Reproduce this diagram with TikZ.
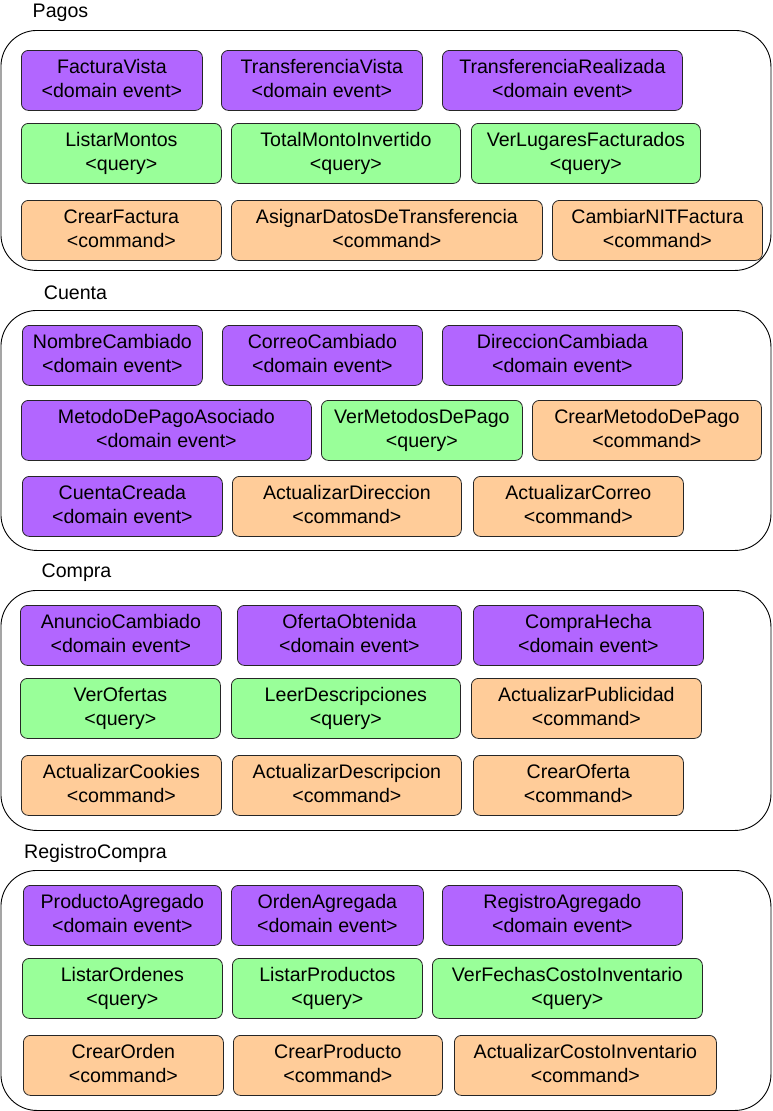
\documentclass[tikz,border=0pt]{standalone}
\usepackage{fontspec}
\setmainfont{Liberation Sans}
\definecolor{evfill}{HTML}{B266FF}
\definecolor{qfill}{HTML}{99FF99}
\definecolor{cfill}{HTML}{FFCC99}
\newcommand\bx[8]{\node[#1, anchor=north west, minimum width={(#5-#3)*1pt}, minimum height={(#6-#4)*1pt}] (#2) at (#3,#4) {\begin{tabular}{@{}c@{}}#7\\#8\end{tabular}};}
\begin{document}
\begin{tikzpicture}[x=1pt,y=-1pt,
  boxbase/.style={draw=black!85, line width=0.8pt, rounded corners=7pt, inner sep=0pt, align=center, font=\fontsize{19.6}{24}\selectfont},
  evbox/.style={boxbase, fill=evfill},
  qrbox/.style={boxbase, fill=qfill},
  cmdbox/.style={boxbase, fill=cfill},
  ctrbox/.style={draw=black, line width=0.9pt, rounded corners=36pt, inner sep=0pt},
  ctrlabel/.style={inner sep=0pt, font=\fontsize{19.6}{24}\selectfont}]
\useasboundingbox (0,0) rectangle (772,1111);
% containers
\node[ctrbox, anchor=north west, minimum width=770pt, minimum height=240pt] (pagos) at (0.5,30) {};
\node[ctrlabel] (pagoslbl) at (60.5,13) {Pagos};
\node[ctrbox, anchor=north west, minimum width=770pt, minimum height=240pt] (cuenta) at (0.5,310) {};
\node[ctrlabel] (cuentalbl) at (75.5,293) {Cuenta};
\node[ctrbox, anchor=north west, minimum width=770pt, minimum height=240pt] (compra) at (0.5,590) {};
\node[ctrlabel] (compralbl) at (76.5,573) {Compra};
\node[ctrbox, anchor=north west, minimum width=770pt, minimum height=240pt] (registro) at (0.5,870) {};
\node[ctrlabel] (registrolbl) at (95.5,853) {RegistroCompra};
% Pagos
\bx{evbox}{p1}{21}{50}{202}{110}{FacturaVista}{<domain event>}
\bx{evbox}{p2}{221}{50}{422}{110}{TransferenciaVista}{<domain event>}
\bx{evbox}{p3}{442}{50}{682}{110}{TransferenciaRealizada}{<domain event>}
\bx{qrbox}{p4}{21}{123}{221}{183}{ListarMontos}{<query>}
\bx{qrbox}{p5}{231}{123}{460}{183}{TotalMontoInvertido}{<query>}
\bx{qrbox}{p6}{471}{123}{700}{183}{VerLugaresFacturados}{<query>}
\bx{cmdbox}{p7}{21}{200}{221}{260}{CrearFactura}{<command>}
\bx{cmdbox}{p8}{231}{200}{542}{260}{AsignarDatosDeTransferencia}{<command>}
\bx{cmdbox}{p9}{552}{200}{762}{260}{CambiarNITFactura}{<command>}
% Cuenta
\bx{evbox}{c1}{22}{325}{202}{385}{NombreCambiado}{<domain event>}
\bx{evbox}{c2}{222}{325}{422}{385}{CorreoCambiado}{<domain event>}
\bx{evbox}{c3}{442}{325}{682}{385}{DireccionCambiada}{<domain event>}
\bx{evbox}{c4}{21}{400}{311}{460}{MetodoDePagoAsociado}{<domain event>}
\bx{qrbox}{c5}{321}{400}{522}{460}{VerMetodosDePago}{<query>}
\bx{cmdbox}{c6}{532}{400}{761}{460}{CrearMetodoDePago}{<command>}
\bx{evbox}{c7}{22}{476}{222}{536}{CuentaCreada}{<domain event>}
\bx{cmdbox}{c8}{232}{476}{461}{536}{ActualizarDireccion}{<command>}
\bx{cmdbox}{c9}{473}{476}{683}{536}{ActualizarCorreo}{<command>}
% Compra
\bx{evbox}{k1}{20}{605}{221}{665}{AnuncioCambiado}{<domain event>}
\bx{evbox}{k2}{237}{605}{461}{665}{OfertaObtenida}{<domain event>}
\bx{evbox}{k3}{473}{605}{703}{665}{CompraHecha}{<domain event>}
\bx{qrbox}{k4}{20}{678}{220}{738}{VerOfertas}{<query>}
\bx{qrbox}{k5}{231}{678}{460}{738}{LeerDescripciones}{<query>}
\bx{cmdbox}{k6}{471}{678}{701}{738}{ActualizarPublicidad}{<command>}
\bx{cmdbox}{k7}{21}{755}{221}{815}{ActualizarCookies}{<command>}
\bx{cmdbox}{k8}{232}{755}{461}{815}{ActualizarDescripcion}{<command>}
\bx{cmdbox}{k9}{473}{755}{683}{815}{CrearOferta}{<command>}
% RegistroCompra
\bx{evbox}{r1}{23}{885}{221}{945}{ProductoAgregado}{<domain event>}
\bx{evbox}{r2}{231}{885}{423}{945}{OrdenAgregada}{<domain event>}
\bx{evbox}{r3}{442}{885}{682}{945}{RegistroAgregado}{<domain event>}
\bx{qrbox}{r4}{22}{958}{222}{1018}{ListarOrdenes}{<query>}
\bx{qrbox}{r5}{232}{958}{422}{1018}{ListarProductos}{<query>}
\bx{qrbox}{r6}{432}{958}{702}{1018}{VerFechasCostoInventario}{<query>}
\bx{cmdbox}{r7}{23}{1035}{223}{1095}{CrearOrden}{<command>}
\bx{cmdbox}{r8}{233}{1035}{442}{1095}{CrearProducto}{<command>}
\bx{cmdbox}{r9}{454}{1035}{716}{1095}{ActualizarCostoInventario}{<command>}
\end{tikzpicture}
\end{document}
